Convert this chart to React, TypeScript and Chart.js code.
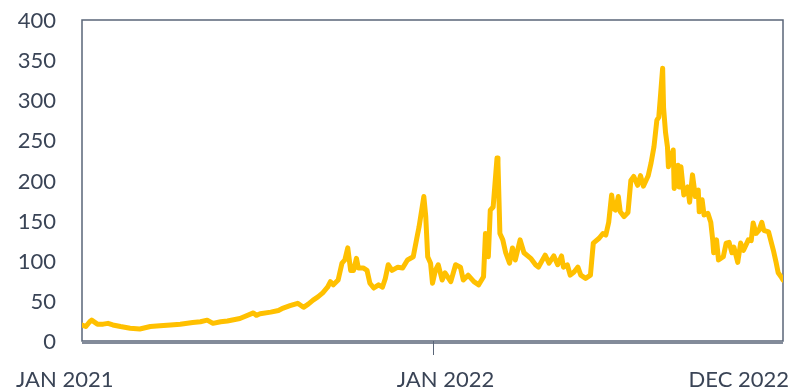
import React, { useEffect, useRef } from "react";
import { Chart, registerables } from "chart.js";

Chart.register(...registerables);

// Day offsets from 1 Jan 2021 and the price on that day
const days = [
  0, 4, 8, 10, 16, 22, 27, 32, 40, 50, 60, 71, 81, 92, 102, 115, 123, 130, 136, 144,
  151, 164, 178, 181, 185, 196, 204, 209, 216, 224, 230, 235, 240, 245, 250, 255, 258, 261, 266, 270,
  273, 276, 279, 282, 285, 287, 292, 296, 299, 303, 308, 312, 315, 318, 322, 328, 333, 338, 344, 348,
  350, 355, 357, 359, 362, 364, 367, 370, 374, 377, 383, 388, 393, 396, 401, 407, 412, 417, 419, 422,
  424, 427, 431, 432, 434, 437, 440, 444, 447, 450, 455, 459, 466, 471, 474, 481, 485, 490, 494, 498,
  500, 504, 507, 511, 515, 518, 523, 528, 531, 537, 541, 544, 547, 550, 552, 554, 557, 559, 563, 567,
  570, 573, 577, 580, 583, 588, 591, 594, 597, 599, 601, 603, 604, 606, 608, 609, 614, 615, 619, 620,
  622, 625, 629, 631, 634, 637, 640, 641, 644, 646, 650, 653, 655, 656, 659, 661, 666, 669, 672, 675,
  677, 681, 684, 687, 692, 695, 697, 700, 703, 706, 708, 713, 718, 721, 723, 726, 728,
];
const prices = [
  20, 18, 24, 26, 21, 21, 22, 20, 18, 16, 15, 18, 19, 20, 21, 23, 24, 26, 22, 24,
  25, 28, 35, 32, 34, 36, 38, 41, 44, 47, 42, 46, 51, 55, 60, 67, 74, 70, 76, 97,
  101, 116, 88, 88, 103, 91, 91, 88, 72, 66, 70, 67, 78, 95, 88, 92, 91, 101, 105, 130,
  142, 180, 155, 105, 97, 72, 88, 95, 76, 85, 74, 95, 92, 76, 82, 74, 70, 80, 134, 105,
  163, 167, 228, 222, 134, 126, 110, 97, 116, 101, 126, 110, 103, 95, 92, 107, 97, 106, 95, 106,
  92, 95, 82, 86, 92, 82, 78, 82, 122, 128, 134, 132, 148, 182, 165, 163, 180, 161, 155, 160,
  200, 205, 194, 206, 193, 206, 222, 242, 275, 279, 309, 340, 290, 260, 242, 217, 238, 190, 219, 192,
  217, 182, 192, 173, 207, 180, 188, 161, 176, 157, 159, 148, 126, 110, 126, 101, 105, 122, 123, 110,
  117, 98, 122, 113, 126, 125, 147, 134, 138, 148, 138, 136, 113, 97, 85, 80, 76,
];

const xTickDays = [0, 365, 728];
const xTickLabels = ["JAN 2021", "JAN 2022", "DEC 2022"];
const yTicks = [0, 50, 100, 150, 200, 250, 300, 350, 400];

const TEXT = "#3a4456";
const FRAME = "#5a6578";
const FONT = "Lato, 'Open Sans', sans-serif";

export default function App() {
  const ref = useRef<HTMLCanvasElement | null>(null);

  useEffect(() => {
    document.body.style.margin = "0";
    const canvas = ref.current;
    if (!canvas) return;

    const framePlugin = {
      id: "frame",
      beforeDatasetsDraw(chart: any) {
        const { ctx, chartArea } = chart;
        const { left, right, top, bottom } = chartArea;
        ctx.save();
        ctx.strokeStyle = FRAME;
        ctx.lineWidth = 1.5;
        ctx.strokeRect(left, top, right - left, bottom - top);
        ctx.beginPath();
        ctx.moveTo(left, bottom + 2);
        ctx.lineTo(right, bottom + 2);
        ctx.stroke();
        const xs = chart.scales.x;
        const tx = Math.round(xs.getPixelForValue(xTickDays[1])) + 0.5;
        ctx.lineWidth = 1;
        ctx.beginPath();
        ctx.moveTo(tx, bottom);
        ctx.lineTo(tx, bottom + 14);
        ctx.stroke();
        ctx.restore();
      },
      afterDraw(chart: any) {
        const { ctx, chartArea } = chart;
        const xs = chart.scales.x;
        const ys = chart.scales.y;
        ctx.save();
        ctx.fillStyle = TEXT;
        ctx.font = `22px ${FONT}`;
        ctx.textBaseline = "middle";
        ctx.textAlign = "right";
        yTicks.forEach((v) => {
          ctx.fillText(String(v), chartArea.left - 26, ys.getPixelForValue(v) + 1);
        });
        const y = chartArea.bottom + 39;
        ctx.textAlign = "left";
        ctx.fillText(xTickLabels[0], xs.getPixelForValue(xTickDays[0]) - 66, y);
        ctx.textAlign = "center";
        ctx.fillText(xTickLabels[1], xs.getPixelForValue(xTickDays[1]) + 12, y);
        ctx.textAlign = "right";
        ctx.fillText(xTickLabels[2], xs.getPixelForValue(xTickDays[2]) + 6, y);
        ctx.restore();
      },
    };

    const chart = new Chart(canvas, {
      type: "line",
      data: {
        datasets: [
          {
            data: days.map((d, i) => ({ x: d, y: prices[i] })),
            borderColor: "#FFC000",
            borderWidth: 5,
            pointRadius: 0,
            tension: 0,
            borderJoinStyle: "round",
            borderCapStyle: "round",
          },
        ],
      },
      options: {
        animation: false,
        responsive: false,
        devicePixelRatio: 1,
        layout: { padding: { top: 20, right: 12, left: 0, bottom: 0 } },
        plugins: { legend: { display: false }, tooltip: { enabled: false } },
        scales: {
          x: {
            type: "linear",
            min: xTickDays[0],
            max: xTickDays[2],
            grid: { display: false },
            border: { display: false },
            ticks: { display: false },
            afterFit: (s: any) => {
              s.height = 50;
            },
          },
          y: {
            min: 0,
            max: 400,
            grid: { display: false, drawTicks: false },
            border: { display: false },
            ticks: { display: false },
            afterFit: (s: any) => {
              s.width = 82;
            },
          },
        },
      },
      plugins: [framePlugin],
    } as any);

    return () => chart.destroy();
  }, []);

  return (
    <div style={{ width: 795, height: 391, overflow: "hidden" }}>
      <canvas ref={ref} width={795} height={391} />
    </div>
  );
}
